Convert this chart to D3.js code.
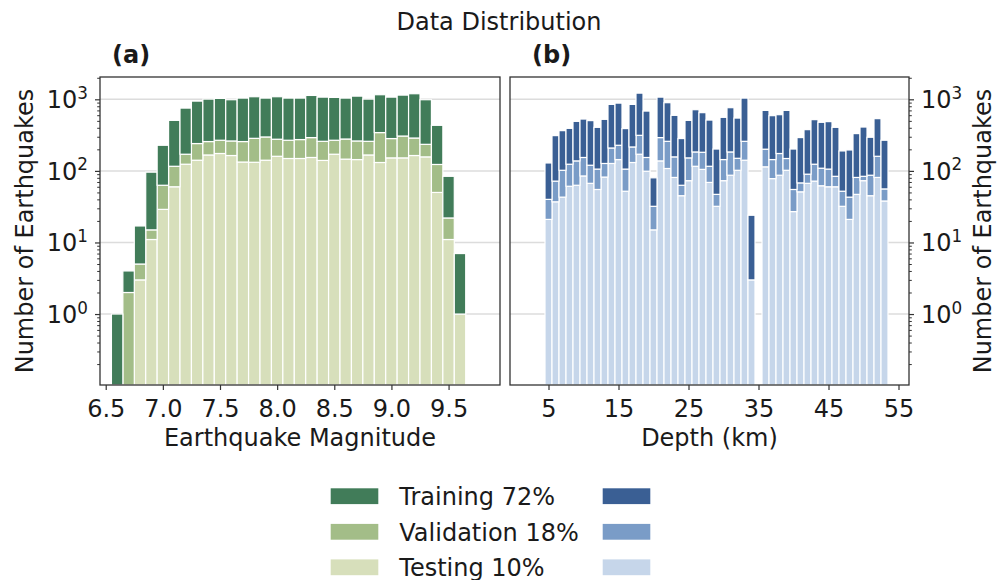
<!DOCTYPE html>
<html>
<head>
<meta charset="utf-8">
<script src="https://cdn.jsdelivr.net/npm/d3@7"></script>
<style>
  body { margin: 0; background: #ffffff; }
  svg text { font-family: "DejaVu Sans", sans-serif; fill: #1a1a1a; }
</style>
</head>
<body>
<svg id="chart" width="998" height="580"></svg>
<script>
// ---- Magnitude histogram (0.1 bins, centred on the listed values) ----
const magnitudeBins = [6.6, 6.7, 6.8, 6.9, 7.0, 7.1, 7.2, 7.3, 7.4, 7.5, 7.6, 7.7, 7.8, 7.9, 8.0,
  8.1, 8.2, 8.3, 8.4, 8.5, 8.6, 8.7, 8.8, 8.9, 9.0, 9.1, 9.2, 9.3, 9.4, 9.5, 9.6];
const magnitudeTesting = [0, 0, 3, 11, 29, 60, 124, 141, 167, 175, 164, 133, 132, 141, 160,
  149, 149, 154, 140, 171, 146, 144, 167, 131, 152, 152, 164, 157, 50, 11, 1];
const magnitudeValidation = [0, 2, 2, 4, 34, 56, 47, 100, 90, 93, 98, 124, 153, 157, 117,
  119, 125, 138, 119, 97, 133, 118, 92, 212, 131, 155, 124, 78, 73, 11, 0];
const magnitudeTraining = [1, 2, 12, 81, 165, 392, 583, 703, 750, 762, 725, 783, 802, 742, 810,
  772, 766, 841, 814, 795, 761, 846, 748, 816, 790, 838, 909, 752, 310, 62, 6];

// ---- Depth histogram (1 km bins) ----
const depthBins = [5, 6, 7, 8, 9, 10, 11, 12, 13, 14, 15, 16, 17, 18, 19, 20, 21, 22, 23, 24,
  25, 26, 27, 28, 29, 30, 31, 32, 33, 34, 35, 36, 37, 38, 39, 40, 41, 42, 43, 44, 45, 46, 47,
  48, 49, 50, 51, 52, 53];
const depthTesting = [21, 37, 43, 61, 63, 85, 67, 55, 82, 127, 144, 52, 131, 171, 99, 15, 138,
  108, 81, 45, 73, 116, 105, 69, 32, 73, 87, 102, 141, 3, 0, 114, 78, 87, 102, 27, 51, 67, 72,
  62, 60, 60, 32, 21, 47, 73, 45, 81, 38];
const depthValidation = [19, 35, 59, 63, 75, 69, 53, 51, 45, 82, 84, 54, 85, 143, 55, 17, 154,
  151, 76, 18, 79, 68, 77, 47, 15, 71, 97, 48, 118, 0, 0, 87, 66, 88, 47, 28, 17, 23, 52, 47,
  46, 24, 20, 22, 34, 11, 42, 79, 18];
const depthTraining = [89, 239, 263, 269, 354, 376, 384, 300, 398, 640, 657, 284, 633, 906, 531,
  48, 781, 638, 440, 220, 356, 532, 469, 397, 155, 416, 580, 397, 781, 21, 0, 499, 447, 435,
  551, 147, 224, 287, 396, 368, 382, 322, 138, 153, 251, 326, 208, 377, 212];

// ---- Ticks and labels ----
const magnitudeTicks = [6.5, 7.0, 7.5, 8.0, 8.5, 9.0, 9.5];
const depthTicks = [5, 15, 25, 35, 45, 55];
const countTickExponents = [0, 1, 2, 3];
const legendLabels = ["Training 72%", "Validation 18%", "Testing 10%"];
const greenShades = ["#417c59", "#a3bd88", "#d7dfbb"];   // training, validation, testing
const blueShades = ["#3a5f94", "#7a9cc7", "#c6d6ea"];

const svg = d3.select("#chart");
const plotTop = 77, plotBottom = 385;
const frameColor = "#333333";
const fontSize = 24;

const panels = [
  {
    label: "(a)", labelX: 112, x0: 100, x1: 500, xDomain: [6.45, 9.95],
    bins: magnitudeBins, binWidth: 0.1,
    testing: magnitudeTesting, validation: magnitudeValidation, training: magnitudeTraining,
    colors: greenShades, ticks: magnitudeTicks, tickFormat: d3.format(".1f"),
    xTitle: "Earthquake Magnitude", side: "left"
  },
  {
    label: "(b)", labelX: 532, x0: 510, x1: 909, xDomain: [-0.5, 56.5],
    bins: depthBins, binWidth: 1,
    testing: depthTesting, validation: depthValidation, training: depthTraining,
    colors: blueShades, ticks: depthTicks, tickFormat: d3.format("d"),
    xTitle: "Depth (km)", side: "right"
  }
];

// title
svg.append("text")
  .attr("x", 499).attr("y", 30)
  .attr("text-anchor", "middle")
  .style("font-size", fontSize + "px")
  .text("Data Distribution");

panels.forEach(p => {
  const x = d3.scaleLinear().domain(p.xDomain).range([p.x0, p.x1]);
  const y = d3.scaleLog().domain([0.102, 2050]).range([plotBottom, plotTop]);
  const yPos = v => (v <= 0 ? plotBottom : y(v));
  const g = svg.append("g");

  // horizontal grid at each decade
  g.append("g").selectAll("line")
    .data(countTickExponents)
    .join("line")
    .attr("x1", p.x0).attr("x2", p.x1)
    .attr("y1", e => y(Math.pow(10, e))).attr("y2", e => y(Math.pow(10, e)))
    .attr("stroke", "#dcdcdc").attr("stroke-width", 1.5);

  // stacked bars: testing at the base, then validation, then training
  const rows = p.bins.map((b, i) => ({
    bin: b, testing: p.testing[i], validation: p.validation[i], training: p.training[i]
  }));
  const keys = ["testing", "validation", "training"];
  const colorOf = { training: p.colors[0], validation: p.colors[1], testing: p.colors[2] };
  const layers = d3.stack().keys(keys)(rows);

  g.append("g").selectAll("g")
    .data(layers)
    .join("g")
    .attr("fill", l => colorOf[l.key])
    .selectAll("rect")
    .data(l => l.filter(d => d[1] - d[0] > 0))
    .join("rect")
    .attr("x", d => x(d.data.bin - p.binWidth / 2))
    .attr("width", d => x(d.data.bin + p.binWidth / 2) - x(d.data.bin - p.binWidth / 2))
    .attr("y", d => y(d[1]))
    .attr("height", d => yPos(d[0]) - y(d[1]))
    .attr("stroke", "#ffffff")
    .attr("stroke-width", 1.2);

  // frame
  g.append("rect")
    .attr("x", p.x0).attr("y", plotTop)
    .attr("width", p.x1 - p.x0).attr("height", plotBottom - plotTop)
    .attr("fill", "none").attr("stroke", frameColor).attr("stroke-width", 1.3);

  // x axis
  const xAxis = g.append("g")
    .attr("transform", `translate(0,${plotBottom})`)
    .call(d3.axisBottom(x).tickValues(p.ticks).tickFormat(p.tickFormat)
      .tickSize(5).tickPadding(10));
  xAxis.select(".domain").remove();
  xAxis.selectAll(".tick line").attr("stroke", frameColor).attr("stroke-width", 1.2);
  xAxis.selectAll(".tick text")
    .attr("fill", "#1a1a1a")
    .style("font-size", fontSize + "px")
    .style("font-family", "DejaVu Sans, sans-serif");

  // y axis (log), major and minor ticks
  const axisX = p.side === "left" ? p.x0 : p.x1;
  const axisFn = p.side === "left" ? d3.axisLeft : d3.axisRight;
  const majorValues = countTickExponents.map(e => Math.pow(10, e));
  const minorValues = y.ticks().filter(v => !majorValues.some(m => Math.abs(m - v) < 1e-9));

  const yMinor = g.append("g").attr("transform", `translate(${axisX},0)`)
    .call(axisFn(y).tickValues(minorValues).tickFormat("").tickSize(2.8));
  yMinor.select(".domain").remove();
  yMinor.selectAll(".tick line").attr("stroke", frameColor).attr("stroke-width", 1);

  const yMajor = g.append("g").attr("transform", `translate(${axisX},0)`)
    .call(axisFn(y).tickValues(majorValues).tickFormat("").tickSize(5));
  yMajor.select(".domain").remove();
  yMajor.selectAll(".tick line").attr("stroke", frameColor).attr("stroke-width", 1.2);

  const labelAnchorX = p.side === "left" ? p.x0 - 12 : p.x1 + 12;
  const labels = g.append("g").selectAll("text")
    .data(countTickExponents)
    .join("text")
    .attr("x", labelAnchorX)
    .attr("y", e => y(Math.pow(10, e)) + 9)
    .attr("text-anchor", p.side === "left" ? "end" : "start")
    .style("font-size", fontSize + "px");
  labels.append("tspan").text("10");
  labels.append("tspan")
    .attr("dy", -9.5)
    .style("font-size", (fontSize * 0.7) + "px")
    .text(e => String(e));

  // y title
  const titleX = p.side === "left" ? 33 : 991;
  g.append("text")
    .attr("transform", `translate(${titleX},${(plotTop + plotBottom) / 2}) rotate(-90)`)
    .attr("text-anchor", "middle")
    .style("font-size", fontSize + "px")
    .text("Number of Earthquakes");

  // x title
  g.append("text")
    .attr("x", (p.x0 + p.x1) / 2).attr("y", 446)
    .attr("text-anchor", "middle")
    .style("font-size", fontSize + "px")
    .text(p.xTitle);

  // panel letter
  g.append("text")
    .attr("x", p.labelX).attr("y", 63)
    .style("font-size", fontSize + "px")
    .style("font-weight", "bold")
    .text(p.label);
});

// legend: two columns of swatches, labels beside the first column
const legendRowsY = [496.2, 531.8, 567.3];
const legend = svg.append("g");
legendLabels.forEach((lab, i) => {
  legend.append("rect")
    .attr("x", 330.7).attr("y", legendRowsY[i] - 7.9)
    .attr("width", 47.6).attr("height", 15.8)
    .attr("fill", greenShades[i]);
  legend.append("rect")
    .attr("x", 602.7).attr("y", legendRowsY[i] - 7.9)
    .attr("width", 47.6).attr("height", 15.8)
    .attr("fill", blueShades[i]);
  legend.append("text")
    .attr("x", 399.3).attr("y", legendRowsY[i] + 8.7)
    .style("font-size", fontSize + "px")
    .text(lab);
});
</script>
</body>
</html>
